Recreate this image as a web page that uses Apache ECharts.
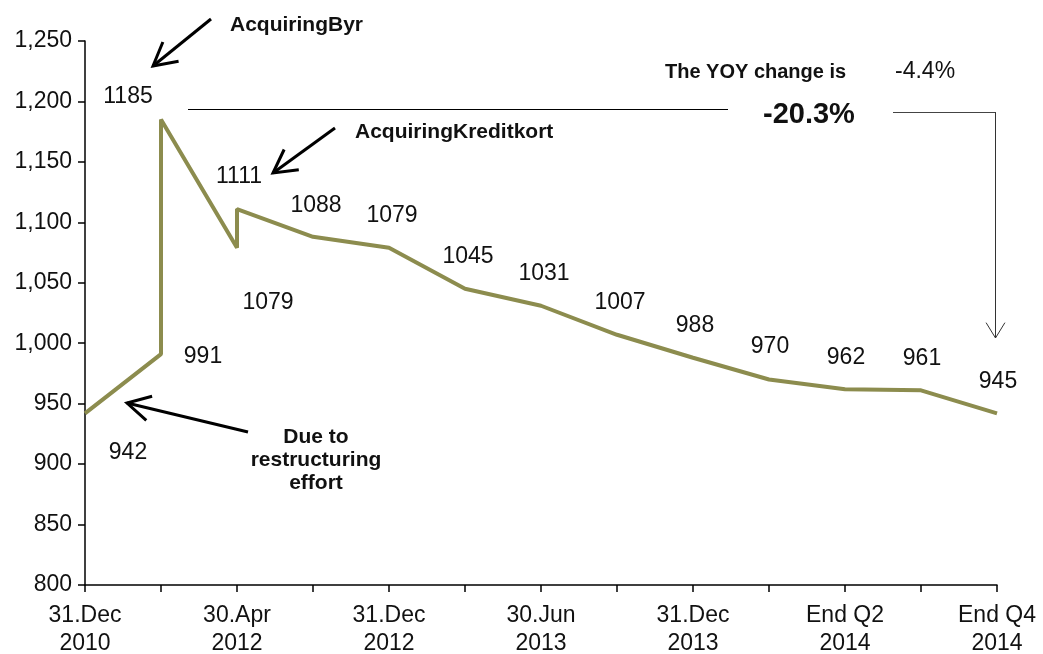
<!DOCTYPE html>
<html>
<head>
<meta charset="utf-8">
<script src="https://cdn.jsdelivr.net/npm/echarts@6/dist/echarts.min.js"></script>
<style>
  html, body { margin: 0; padding: 0; background: #fff; }
  #main { width: 1043px; height: 654px; }
</style>
</head>
<body>
<div id="main"></div>
<script>
// x 轴上每两个刻度一个日期
var dateLabels = ['31.Dec\n2010', '30.Apr\n2012', '31.Dec\n2012', '30.Jun\n2013', '31.Dec\n2013', 'End Q2\n2014', 'End Q4\n2014'];

// 折线的点 (同一个 x 出现两次 = 垂直跳变)
var xPos = [0, 1, 1, 2, 2, 3, 4, 5, 6, 7, 8, 9, 10, 11, 12];
var values = [942, 991, 1185, 1079, 1111, 1088, 1079, 1045, 1031, 1007, 988, 970, 962, 961, 942];
var labelText = ['942', '991', '1185', '1079', '1111', '1088', '1079', '1045', '1031', '1007', '988', '970', '962', '961', '945'];

// 标签相对于点的偏移
var labelOffsets = [[43, 39], [42, 3], [-33, -23], [31, 55], [2, -32], [3, -31], [3, -32], [3, -32],
  [3, -32], [3, -32], [2, -32], [1, -33], [1, -32], [1, -32], [1, -32]];

var font = 'Liberation Sans, Arial, sans-serif';
var lineColor = '#8C8C4E';
var textColor = '#111';

var myChart = echarts.init(document.getElementById('main'));

var points = xPos.map(function (x, i) {
  return {
    value: [x, values[i]],
    label: { offset: labelOffsets[i], formatter: labelText[i] }
  };
});

// 画一个开口箭头 (线 + 两根翼)
function arrow(x1, y1, x2, y2, len, spread, width, color) {
  var a = Math.atan2(y2 - y1, x2 - x1);
  var w1 = [x2 - len * Math.cos(a - spread), y2 - len * Math.sin(a - spread)];
  var w2 = [x2 - len * Math.cos(a + spread), y2 - len * Math.sin(a + spread)];
  var st = { stroke: color, lineWidth: width, fill: null };
  return [
    { type: 'line', shape: { x1: x1, y1: y1, x2: x2, y2: y2 }, style: st, silent: true },
    { type: 'polyline', shape: { points: [w1, [x2, y2], w2] }, style: st, silent: true }
  ];
}

function txt(x, y, s, size, bold, align) {
  return {
    type: 'text', x: x, y: y, silent: true,
    style: {
      text: s, fill: textColor, font: (bold ? 'bold ' : '') + size + 'px ' + font,
      textAlign: align || 'left', textVerticalAlign: 'middle', lineHeight: 23
    }
  };
}

var graphics = []
  .concat(arrow(211, 19, 153, 66, 26, 0.5, 3, '#000'))
  .concat(arrow(335, 128, 273, 173, 26, 0.5, 3, '#000'))
  .concat(arrow(248, 432, 127, 403, 26, 0.5, 3, '#000'))
  .concat(arrow(995.5, 112, 995.5, 338, 18, 0.55, 1, '#333'))
  .concat([
    { type: 'line', shape: { x1: 188, y1: 109.5, x2: 728, y2: 109.5 }, style: { stroke: '#000', lineWidth: 1 }, silent: true },
    { type: 'line', shape: { x1: 893, y1: 112.5, x2: 995.5, y2: 112.5 }, style: { stroke: '#444', lineWidth: 1 }, silent: true },
    txt(230, 25, 'AcquiringByr', 21, true),
    txt(355, 132, 'AcquiringKreditkort', 21, true),
    txt(316, 460, 'Due to\nrestructuring\neffort', 21, true, 'center'),
    txt(665, 72, 'The YOY change is', 20, true),
    txt(895, 72, '-4.4%', 23, false),
    txt(763, 115, '-20.3%', 29, true)
  ]);

var option = {
  animation: false,
  grid: { left: 85, right: 46, top: 41, bottom: 69, outerBoundsMode: 'none', containLabel: false },
  xAxis: {
    type: 'value',
    min: 0,
    max: 12,
    interval: 1,
    splitLine: { show: false },
    axisLine: { lineStyle: { color: '#000', width: 1.5 } },
    axisTick: { show: true, length: 7, lineStyle: { color: '#000', width: 1.5 } },
    axisLabel: {
      margin: 17,
      color: textColor,
      fontFamily: font,
      fontSize: 23,
      lineHeight: 28,
      showMinLabel: true,
      showMaxLabel: true,
      formatter: function (v) {
        return v % 2 === 0 ? dateLabels[v / 2] : '';
      }
    }
  },
  yAxis: {
    type: 'value',
    min: 800,
    max: 1250,
    interval: 50,
    splitLine: { show: false },
    axisLine: { show: true, lineStyle: { color: '#000', width: 1.5 } },
    axisTick: { show: true, length: 7, lineStyle: { color: '#000', width: 1.5 } },
    axisLabel: {
      margin: 13,
      color: textColor,
      fontFamily: font,
      fontSize: 23,
      formatter: function (v) { return v.toLocaleString('en-US'); }
    }
  },
  series: [{
    type: 'line',
    data: points,
    symbol: 'circle',
    symbolSize: 0,
    showSymbol: true,
    lineStyle: { color: lineColor, width: 4 },
    itemStyle: { color: lineColor },
    label: {
      show: true,
      position: 'inside',
      color: textColor,
      fontFamily: font,
      fontSize: 23
    }
  }],
  graphic: graphics
};

myChart.setOption(option);
</script>
</body>
</html>
